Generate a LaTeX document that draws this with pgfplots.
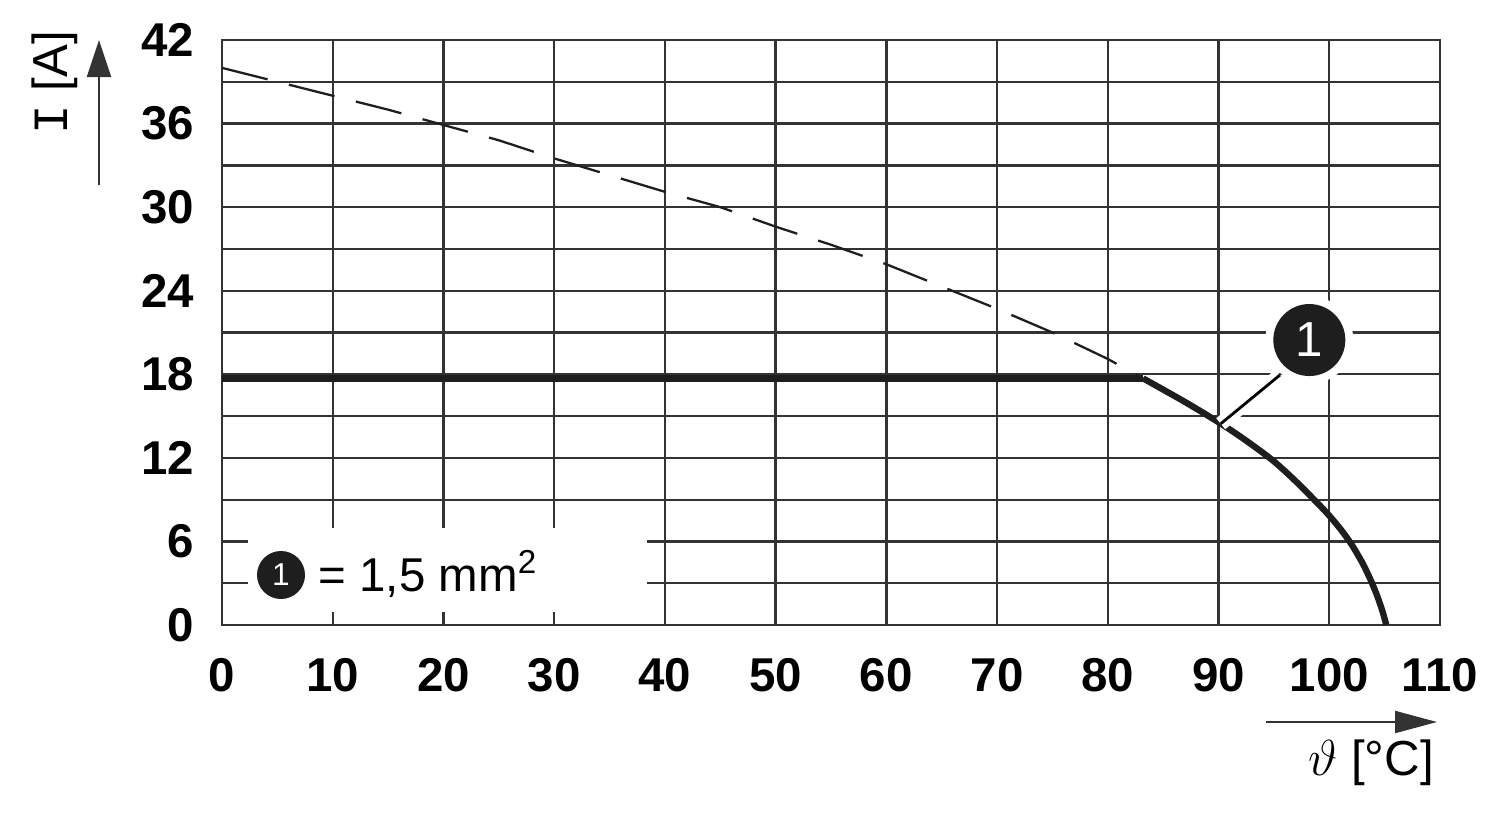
\documentclass[border=0pt]{standalone}
\usepackage{pgfplots}
\pgfplotsset{compat=1.18}
\usepackage{fontspec}
\setmainfont{Liberation Sans}
\newfontfamily\monofont{Liberation Mono}
\usetikzlibrary{arrows.meta}
\definecolor{gridc}{HTML}{333333}
\definecolor{curvec}{HTML}{1E1E1E}
\pgfplotstableread{
x y
0 40.0
5 39.0
10 38.0
15 37.0
20 35.9
25 34.8
30 33.5
35 32.3
40 31.1
45 30.0
50 28.6
55 27.3
60 25.9
65 24.3
70 22.7
75 21.0
80 19.1
83.2 17.7
}\dashed
\pgfplotstableread{
x y
83.2 17.7
85 16.9
87 16.0
89 15.05
91 14.05
93 12.95
95 11.75
97 10.3
99 8.7
100 7.85
101 6.9
102 5.8
103 4.45
103.7 3.3
104.3 2.15
104.8 1.0
105.15 0
}\derating
\begin{document}
\begin{tikzpicture}
\path[use as bounding box] (-2.22,-1.94) rectangle (12.78,6.25);
\begin{axis}[
  at={(0,0)}, anchor=south west,
  scale only axis, width=12.18cm, height=5.85cm,
  xmin=0, xmax=110, ymin=0, ymax=42,
  xtick={0,10,...,110},
  ytick={0,6,...,42},
  minor ytick={3,9,...,39},
  grid=both,
  major grid style={gridc, line width=0.65pt},
  minor grid style={gridc, line width=0.65pt},
  axis line style={gridc, line width=0.65pt},
  major tick length=0pt, minor tick length=0pt,
  /pgf/number format/assume math mode=true,
  tick label style={font=\bfseries\fontsize{13.5}{14}\selectfont, inner sep=0pt},
  xticklabel shift=0.33cm,
  yticklabel shift=0.27cm,
]
\fill[white] (axis cs:2.35,0.93) rectangle (axis cs:38.4,7.0);
\addplot[curvec, line width=0.65pt, dash pattern=on 0.47cm off 0.22cm] table[x=x,y=y]{\dashed};
\addplot[curvec, line width=1.8pt] coordinates {(0,17.7) (83.2,17.7)};
\addplot[curvec, line width=1.8pt, smooth] table[x=x,y=y]{\derating};
% callout
\draw[white, line width=4pt] (axis cs:95.55,17.95) -- (axis cs:90.2,14.45);
\draw[black, line width=0.8pt] (axis cs:95.55,17.95) -- (axis cs:90.2,14.45);
\fill[white] (axis cs:98.2,20.46) circle[radius=0.44cm];
\fill[curvec] (axis cs:98.2,20.46) circle[radius=0.36cm];
\node[white, font=\fontsize{14}{14}\selectfont] at (axis cs:98.2,20.46) {1};
% legend
\fill[curvec] (axis cs:5.33,3.59) circle[radius=0.24cm];
\node[white, font=\fontsize{9}{9}\selectfont] at (axis cs:5.33,3.59) {1};
\node[anchor=base west, inner sep=0pt, font=\fontsize{13.5}{14}\selectfont] at (axis cs:8.67,2.37) {= 1,5 mm\textsuperscript{2}};
\end{axis}
% axis labels
\node[rotate=90, font=\fontsize{14}{14}\selectfont] at (-1.67,5.42) {{\monofont I} [A]};
\draw[gridc, line width=0.6pt, -{Triangle[length=0.37cm,width=0.24cm]}] (-1.23,4.40) -- (-1.23,5.85);
\draw[gridc, line width=0.6pt, -{Triangle[length=0.42cm,width=0.22cm]}] (10.44,-0.97) -- (12.15,-0.97);
\node[font=\fontsize{14}{14}\selectfont] at (11.49,-1.38) {$\vartheta$ [°C]};
\end{tikzpicture}
\end{document}
